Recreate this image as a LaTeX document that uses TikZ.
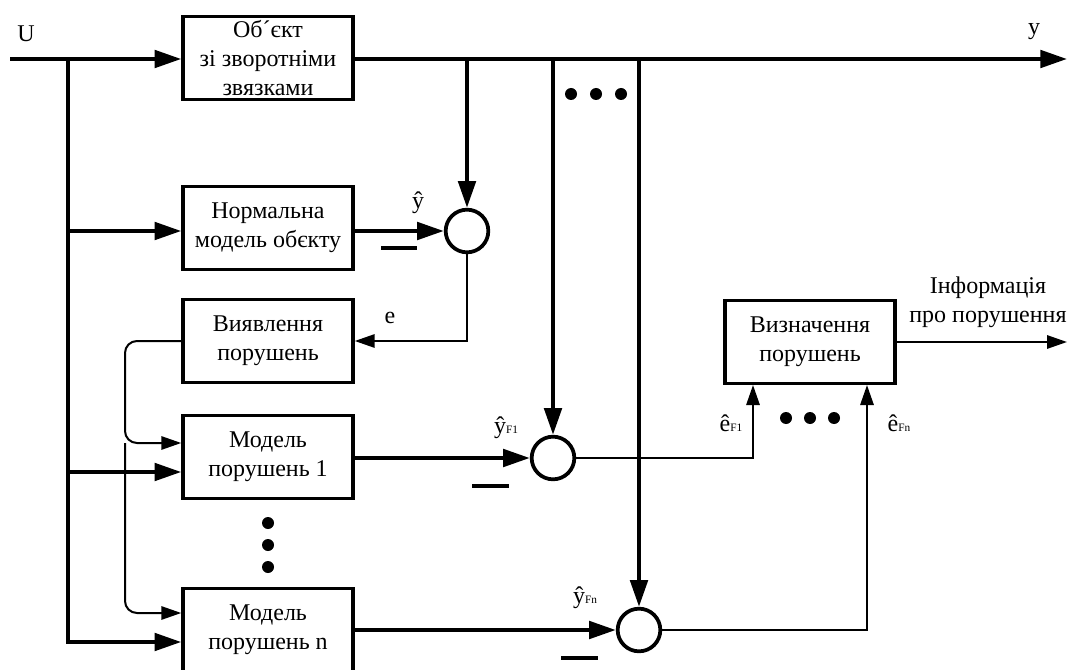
\documentclass[tikz,border=0pt]{standalone}
\usepackage{fontspec}
\setmainfont{Liberation Serif}
\usetikzlibrary{arrows.meta,positioning,calc}
\tikzset{
  blok/.style={rectangle, draw=black, line width=2.6pt, minimum width=127.5pt, minimum height=62pt, inner sep=1pt, align=center, font=\fontsize{18}{21.5}\selectfont},
  sumc/.style={circle, draw=black, line width=2.8pt, minimum size=32pt, inner sep=0pt},
  lbl/.style={inner sep=1pt, font=\fontsize{18}{21.5}\selectfont},
  pnt/.style={circle, fill=black, inner sep=0pt, minimum size=9pt},
  thickl/.style={draw, line width=3pt, -{Triangle[length=20pt,width=13pt]}},
  thinl/.style={draw, line width=1.5pt, -{Triangle[length=15pt,width=10pt]}},
  minusbar/.style={draw, line width=3pt}
}
\newcommand{\indx}[1]{{\fontsize{8.5}{9}\selectfont #1}}
\begin{document}
\begin{tikzpicture}[x=0.75pt,y=-0.75pt]
  \useasboundingbox (0,0) rectangle (1070,670);

  \node[blok] (obj) at (268,58) {Об´єкт\\зі зворотніми\\звязками};
  \node[blok] (norm) at (268,228) {Нормальна\\модель обєкту};
  \node[blok] (vyjav) at (268,341) {Виявлення\\порушень};
  \node[blok] (mod1) at (268,457) {Модель\\порушень 1};
  \node[blok] (modn) at (268,630) {Модель\\порушень n};
  \node[blok] (vyzn) at (810,342) {Визначення\\порушень};

  \node[sumc] (s0) at (467,231) {};
  \node[sumc] (s1) at (553,458) {};
  \node[sumc] (sn) at (639,630) {};

  \coordinate (uin) at (10,59);
  \coordinate (bus) at (68,59);
  \coordinate (yout) at (1067,59);
  \coordinate (info) at (1067,342);
  \coordinate (kr) at (125,341);
  \coordinate (m1a) at ($(mod1.west)+(0,-14)$);
  \coordinate (m1b) at ($(mod1.west)+(0,15)$);
  \coordinate (mna) at ($(modn.west)+(0,-17)$);
  \coordinate (mnb) at ($(modn.west)+(0,12)$);
  \coordinate (v1) at ($(vyzn.south)+(-57,0)$);
  \coordinate (vn) at ($(vyzn.south)+(57,0)$);

  \node[lbl] (lu) at (26,34) {U};
  \node[lbl] (ly) at (1034,32) {y};
  \node[lbl] (ly0) at (418,203) {ŷ};
  \node[lbl] (le) at (390,318) {e};
  \node[lbl] (ly1) at (506,428) {ŷ\indx{F1}};
  \node[lbl] (lyn) at (585,598) {ŷ\indx{Fn}};
  \node[lbl] (le1) at (731,423) {ê\indx{F1}};
  \node[lbl] (len) at (899,423) {ê\indx{Fn}};
  \node[lbl, align=center] (linfo) at (988,302) {Інформація\\про порушення};

  \foreach \px in {571,596,621} \node[pnt] at (\px,94) {};
  \foreach \py in {523,545,567} \node[pnt] at (268,\py) {};
  \foreach \px in {786,810,834} \node[pnt] at (\px,418) {};

  \begin{scope}[every path/.style=thickl]
    \path (uin) -- (obj.west |- uin);
    \path (obj.east |- uin) -- (yout);
    \path (bus) |- (mnb);
    \path (bus |- s0) -- (norm.west |- s0);
    \path (bus |- m1b) -- (m1b);
    \path (norm.east |- s0) -- (s0);
    \path (mod1.east |- s1) -- (s1);
    \path (modn.east |- sn) -- (sn);
    \path (s0 |- uin) -- (s0);
    \path (s1 |- uin) -- (s1);
    \path (sn |- uin) -- (sn);
  \end{scope}

  \begin{scope}[every path/.style=thinl]
    \path (s0) |- (vyjav.east);
    \path[rounded corners=9pt] (vyjav.west) -- (kr) |- (m1a);
    \path[rounded corners=9pt] (kr |- m1a) |- (mna);
    \path (s1) -| (v1);
    \path (sn) -| (vn);
    \path (vyzn.east |- info) -- (info);
  \end{scope}

  \draw[minusbar] ($(s0)+(-86,17)$) -- ++(36,0);
  \draw[minusbar] ($(s1)+(-81,28)$) -- ++(37,0);
  \draw[minusbar] ($(sn)+(-78,28)$) -- ++(37,0);
\end{tikzpicture}
\end{document}
